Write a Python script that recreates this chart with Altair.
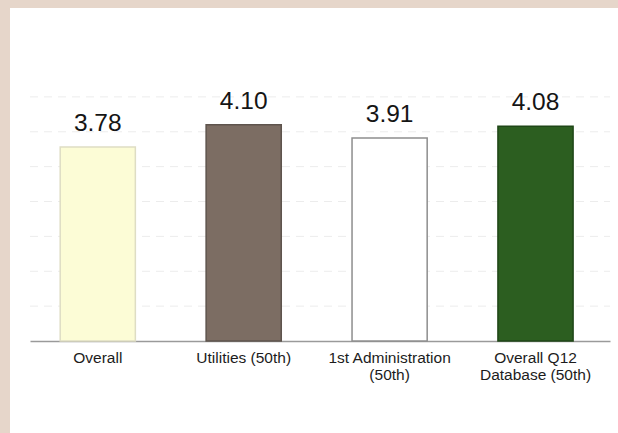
import altair as alt
import pandas as pd

categories = ["Overall", "Utilities (50th)", "1st Administration\n(50th)", "Overall Q12\nDatabase (50th)"]
values = [3.78, 4.10, 3.91, 4.08]
fills = ["#fcfcd6", "#7c6d63", "#ffffff", "#2c5e20"]
strokes = ["#deddc4", "#5e544d", "#8e8e8e", "#1f4617"]
grid_values = [1.5, 2.0, 2.5, 3.0, 3.5, 4.0, 4.5]

df = pd.DataFrame({"cat": categories, "value": values})
grid_df = pd.DataFrame({"g": grid_values})

x_enc = alt.X(
    "cat:N",
    sort=categories,
    scale=alt.Scale(paddingInner=0.485, paddingOuter=0.23, align=0.45),
    axis=alt.Axis(
        title=None,
        labelAngle=0,
        ticks=False,
        domainColor="#9a9a9a",
        domainWidth=1.5,
        labelFont="Liberation Sans",
        labelFontSize=15.5,
        labelColor="#1c1c1c",
        labelPadding=9,
        labelBaseline="top",
        labelLineHeight=17,
        labelExpr="split(datum.label, '\\n')",
        grid=False,
    ),
)
y_scale = alt.Scale(domain=[1, 5], zero=False, nice=False)

grid = alt.Chart(grid_df).mark_rule(color="#ececec", strokeDash=[8, 6], strokeWidth=1).encode(
    y=alt.Y("g:Q", scale=y_scale, axis=None),
    x=alt.value(0),
    x2=alt.value(580),
)

bars = alt.Chart(df).mark_bar(strokeWidth=1.5).encode(
    x=x_enc,
    y=alt.Y("value:Q", scale=y_scale, axis=None),
    y2=alt.datum(1),
    fill=alt.Fill("cat:N", scale=alt.Scale(domain=categories, range=fills), legend=None),
    stroke=alt.Stroke("cat:N", scale=alt.Scale(domain=categories, range=strokes), legend=None),
)

labels = alt.Chart(df).mark_text(
    baseline="bottom", dy=-11, fontSize=24.5, font="Liberation Sans", color="#151515"
).encode(
    x=alt.X("cat:N", sort=categories),
    y=alt.Y("value:Q", scale=y_scale),
    text=alt.Text("value:Q", format=".2f"),
)

border_df = pd.DataFrame({"k": [0]})
left_strip = alt.Chart(border_df).mark_rect(color="#e6d6ca").encode(
    x=alt.value(-30), x2=alt.value(-20), y=alt.value(-62), y2=alt.value(371)
)
top_strip = alt.Chart(border_df).mark_rect(color="#e6d6ca").encode(
    x=alt.value(-30), x2=alt.value(588), y=alt.value(-62), y2=alt.value(-54)
)

chart = (
    alt.layer(left_strip, top_strip, grid, bars, labels)
    .properties(
        width=580,
        height=279,
        padding={"left": 30, "top": 62, "right": 8, "bottom": 92},
        autosize=alt.AutoSizeParams(type="none"),
        background="#ffffff",
    )
    .configure_view(stroke=None)
)

chart.save("out.html", embed_options={"renderer": "svg", "actions": False})
